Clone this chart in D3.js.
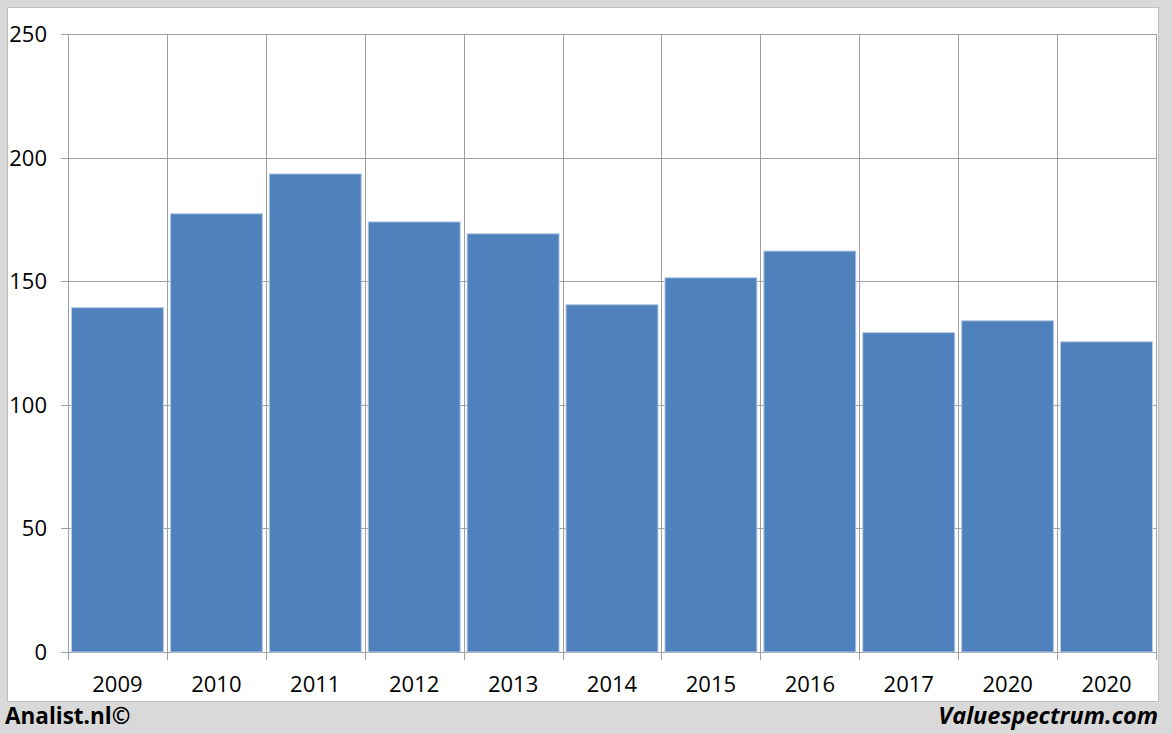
<!DOCTYPE html>
<html><head><meta charset="utf-8">
<script src="https://cdn.jsdelivr.net/npm/d3@7"></script>
<style>body{margin:0;background:#d9d9d9;}svg{display:block;}</style>
</head><body>
<svg id="c" width="1172" height="734"></svg>
<script>
const categories = ["2009","2010","2011","2012","2013","2014","2015","2016","2017","2020","2020"];
const values = [139.3, 177.3, 193.4, 174, 169.2, 140.5, 151.4, 162.2, 129.2, 134, 125.5];
const yTicks = [0, 50, 100, 150, 200, 250];

const svg = d3.select("#c");
const font = "'Open Sans', 'Liberation Sans', sans-serif";
svg.append("rect").attr("x",0).attr("y",0).attr("width",1172).attr("height",734).attr("fill","#d9d9d9");
svg.append("rect").attr("x",7.5).attr("y",7.5).attr("width",1151).attr("height",694).attr("fill","#ffffff").attr("stroke","#bfbfbf").attr("stroke-width",1);

const L = 68, R = 1156, T = 34, B = 652;
const idx = categories.map((d,i)=>i);
const x = d3.scaleBand().domain(idx).range([L, R]).paddingInner(0.07).paddingOuter(0.035);
const xb = d3.scaleLinear().domain([0, categories.length]).range([L, R]);
const y = d3.scaleLinear().domain([0, 250]).range([B, T]);

const grid = svg.append("g").attr("stroke","#a0a0a0").attr("stroke-width",1).attr("shape-rendering","crispEdges");
yTicks.forEach(t => {
  grid.append("line").attr("x1", L-7).attr("x2", R).attr("y1", Math.round(y(t))+0.5).attr("y2", Math.round(y(t))+0.5);
});
d3.range(categories.length+1).forEach(i => {
  const xx = Math.round(xb(i))+0.5;
  grid.append("line").attr("x1", xx).attr("x2", xx).attr("y1", T).attr("y2", B + 8);
});

svg.append("g").selectAll("rect").data(values).join("rect")
  .attr("x", (d,i)=>x(i)).attr("width", x.bandwidth())
  .attr("y", d=>y(d)).attr("height", d=>B - y(d))
  .attr("fill","#4f81bd").attr("stroke","#b9cde5").attr("stroke-width",1);

svg.append("g").selectAll("text").data(yTicks).join("text")
  .attr("x", 47).attr("y", d=>y(d)+8).attr("text-anchor","end")
  .attr("font-family", font).attr("font-size", 22).attr("fill","#000").text(d=>d);

svg.append("g").selectAll("text").data(categories).join("text")
  .attr("x", (d,i)=>x(i)+x.bandwidth()/2).attr("y", 692).attr("text-anchor","middle")
  .attr("font-family", font).attr("font-size", 22).attr("fill","#000").text(d=>d);

svg.append("text").attr("x",5).attr("y",724).attr("font-family",font).attr("font-weight","bold")
  .attr("font-size",22.5).attr("fill","#000").text("Analist.nl©");
svg.append("text").attr("x",1158).attr("y",724).attr("text-anchor","end").attr("font-family",font).attr("font-weight","bold")
  .attr("font-style","italic").attr("font-size",23.5).attr("fill","#000").text("Valuespectrum.com");
</script>
</body></html>
